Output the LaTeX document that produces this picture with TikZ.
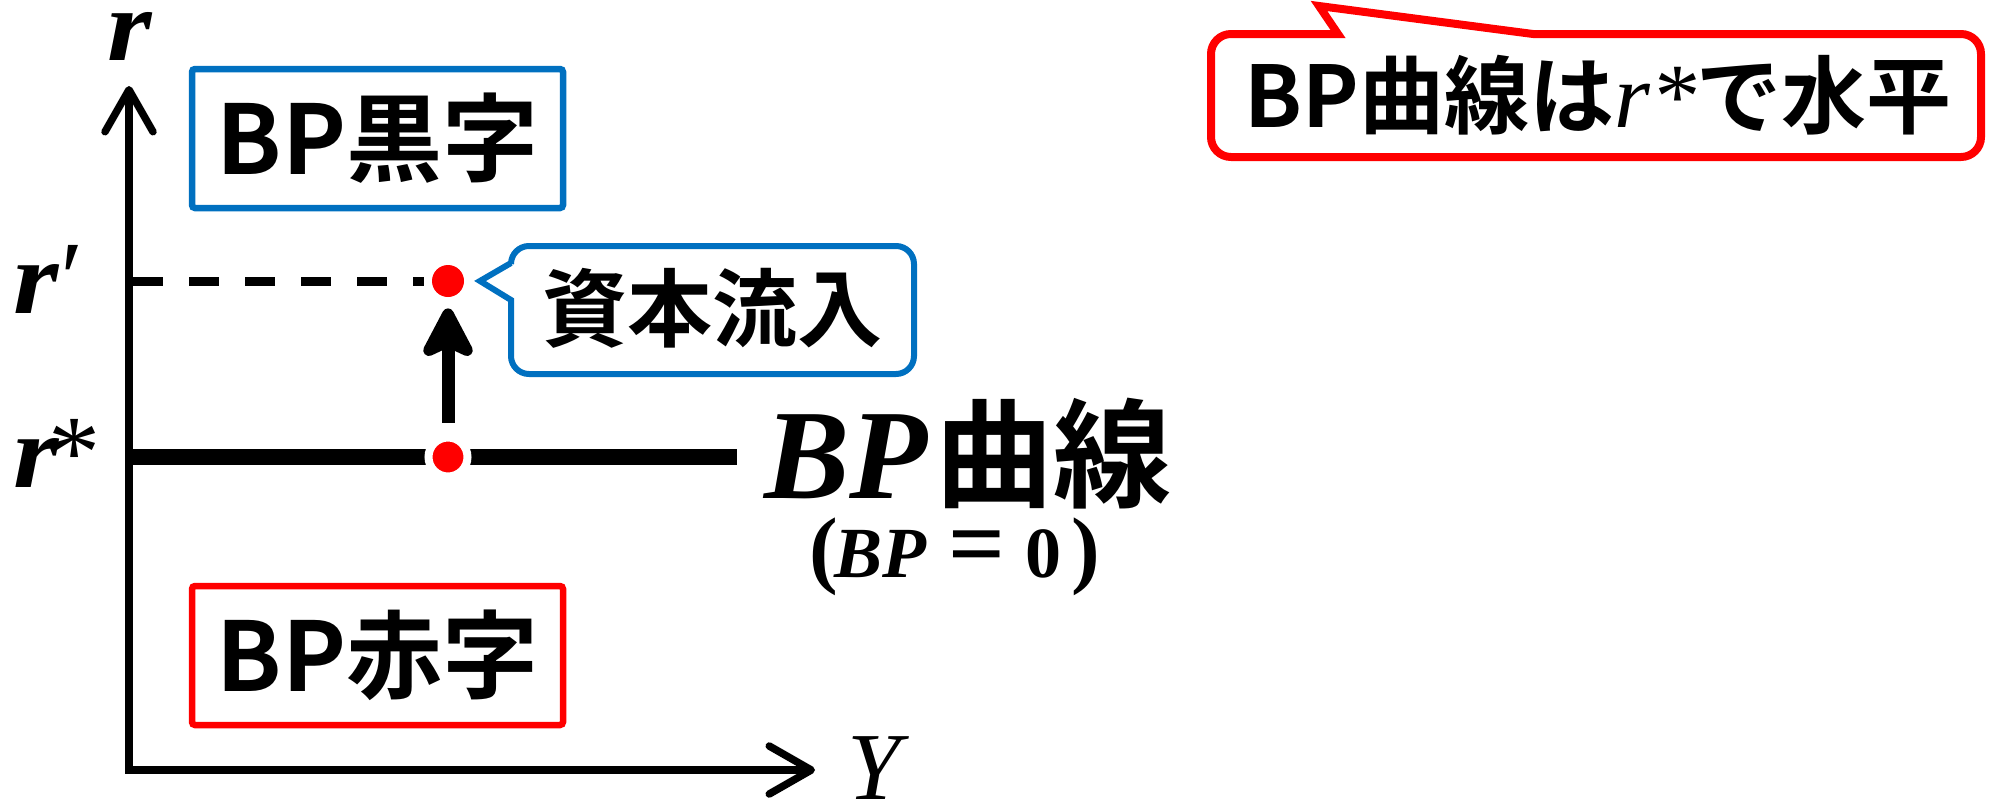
\documentclass[tikz,border=0pt]{standalone}
\usepackage{fontspec}
\usetikzlibrary{arrows.meta}
\newfontfamily\cjk{Noto Sans CJK JP Bold}
\newfontfamily\ser{Liberation Serif}
\definecolor{bpblue}{HTML}{0070C0}
\definecolor{bpred}{HTML}{FF0000}
\newcommand\fsz[1]{\fontsize{#1}{#1}\selectfont}
\newcommand\wider[1]{\scalebox{1.12}[1]{#1}}
\begin{document}
\begin{tikzpicture}[x=0.5pt,y=-0.5pt,
  axisline/.style={line width=3.75pt,line cap=rect,-{Straight Barb[length=21pt,width=24pt,round]}},
  dashline/.style={line width=4.5pt,dash pattern=on 15pt off 13pt},
  bpline/.style={line width=8pt},
  vec/.style={line width=6.5pt,-{Stealth[length=30pt,width=31pt,inset=7pt,round]}},
  reddot/.style={circle,fill=bpred,inner sep=0pt,minimum size=16pt},
  ringdot/.style={circle,fill=bpred,draw=white,line width=4pt,inner sep=0pt,minimum size=19.5pt},
  balbox/.style={draw,line width=3.25pt,rounded corners=1.5pt,minimum width=185.5pt,minimum height=69.5pt,inner sep=0pt,font=\cjk\fsz{48}},
  cjktext/.style={inner sep=0pt,font=\cjk\fsz{42.5}},
  lab/.style={inner sep=0pt}]
\useasboundingbox (0,0) rectangle (2003,803);

% axes
\coordinate (O) at (129,770);
\coordinate (ytip) at (129,86);
\coordinate (xtip) at (815,770);
\draw[axisline] (O) -- (ytip);
\draw[axisline] (O) -- (xtip);

% upper dot and dashed line
\node[reddot] (p1) at (448,281) {};
\coordinate (dstart) at (133,281);
\draw[dashline,shorten >=4pt] (dstart) -- (p1);

% BP line and lower dot
\coordinate (bpL) at (131,457);
\coordinate (bpR) at (737,457);
\draw[bpline] (bpL) -- (bpR);
\node[ringdot] (p0) at (448,457) {};

% capital inflow arrow
\draw[vec,shorten <=5.5pt,shorten >=5.5pt] (p0) -- (p1);

% boxes
\node[balbox,draw=bpblue] (kuro) at (377.5,138.5) {BP黒字};
\node[balbox,draw=bpred] (aka) at (377.5,655.5) {BP赤字};

% blue callout
\coordinate (ct) at (480,281);
\draw[bpblue,line width=3pt,fill=white]
  (511,263) -- (ct) -- (511,300) -- (511,356)
  arc[start angle=180,end angle=270,radius=9pt] -- (896,374)
  arc[start angle=270,end angle=360,radius=9pt] -- (914,264)
  arc[start angle=0,end angle=90,radius=9pt] -- (529,246)
  arc[start angle=90,end angle=180,radius=9pt] -- cycle;
\node[cjktext] (inflow) at (712,308) {資本流入};

% red callout
\coordinate (rt) at (1319,6);
\draw[bpred,line width=4pt,fill=white]
  (1533,34) -- (rt) -- (1338,34) -- (1231,34)
  arc[start angle=90,end angle=180,radius=10pt] -- (1211,137)
  arc[start angle=180,end angle=270,radius=10pt] -- (1961,157)
  arc[start angle=270,end angle=360,radius=10pt] -- (1981,54)
  arc[start angle=0,end angle=90,radius=10pt] -- cycle;
\node[cjktext] (flat) at (1598,95) {BP曲線は{\ser\itshape\mdseries\fsz{46}r*}で水平};

% axis labels
\node[lab,anchor=base] (rlab) at (130,60) {\ser\bfseries\itshape\fsz{51}\wider{r}};
\node[lab,anchor=base west] (rprime) at (13,313) {\ser\bfseries\itshape\fsz{52}\wider{r}\hspace{-2pt}{\mdseries ′}};
\node[lab,anchor=base west] (rstar) at (13,487) {\ser\bfseries\itshape\fsz{52}\wider{r}\hspace{-5pt}{\upshape\mdseries *}};
\node[lab,anchor=base] (ylab) at (874,799) {\ser\itshape\fsz{48}Y};

% BP curve label
\node[lab,anchor=base west,text depth=0pt] (bpc) at (764,498) {{\ser\bfseries\itshape\fsz{64}BP}\hspace{4pt}{\cjk\fsz{59}曲線}};
\node[lab,anchor=base west] (bp0) at (809,577) {\ser\bfseries\fsz{43}(\fsz{36}\hspace{-2pt}\textit{BP}\hspace{11pt}\fsz{50}=\hspace{10pt}\fsz{36}0\hspace{5pt}\fsz{43})};
\end{tikzpicture}
\end{document}
